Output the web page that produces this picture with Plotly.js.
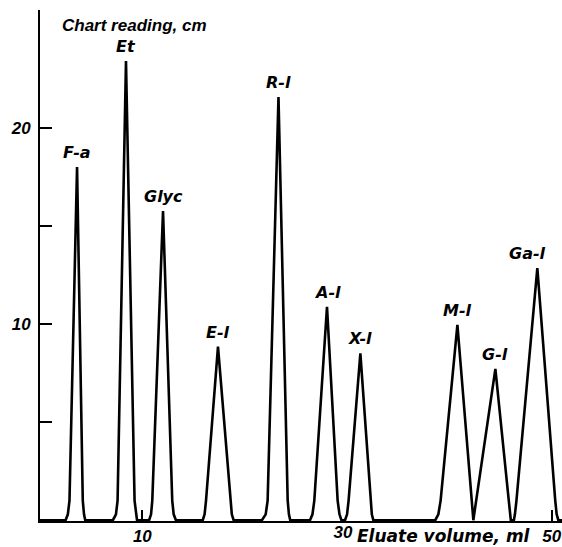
<!DOCTYPE html>
<html>
<head>
<meta charset="utf-8">
<script src="https://cdn.plot.ly/plotly-3.0.1.min.js"></script>
<style>html,body{margin:0;padding:0;background:#fff;}#chart{width:562px;height:547px;}</style>
</head>
<body>
<div id="chart"></div>
<script>
// Chromatogram trace (eluate volume in ml, chart reading in cm)
const elutionVolume = [
  0,
  2.50, 2.72, 2.88, 3.62, 4.18, 4.30, 4.42,
  7.12, 7.42, 7.58, 8.40, 9.24, 9.36, 9.48,
  10.66, 10.85, 10.97, 12.02, 12.92, 13.06, 13.28,
  15.90, 16.08, 16.22, 17.39, 18.58, 18.74, 18.92,
  21.68, 22.05, 22.24, 23.30, 24.20, 24.32, 24.45,
  26.38, 26.62, 26.80, 28.04, 29.08, 29.26, 29.45,
  29.80, 30.00, 30.15, 31.30, 32.28, 32.42, 32.57,
  38.62, 38.92, 39.14, 40.78, 42.19, 42.28, 42.34,
  42.42, 42.62, 44.49, 45.80, 45.90, 46.00,
  46.30, 46.40, 46.55, 48.59, 50.34, 50.48, 50.64,
  51.0
];
const chartReading = [
  0,
  0, 0.3, 1, 18.0, 1, 0.3, 0,
  0, 0.3, 1, 23.4, 1, 0.3, 0,
  0, 0.3, 1, 15.76, 1, 0.3, 0,
  0, 0.3, 1, 8.85, 1, 0.3, 0,
  0, 0.3, 1, 21.56, 1, 0.3, 0,
  0, 0.3, 1, 10.88, 1, 0.3, 0,
  0, 0.3, 1, 8.50, 1, 0.3, 0,
  0, 0.3, 1, 9.96, 1, 0.3, 0,
  0.3, 1, 7.71, 1, 0.3, 0,
  0, 0.3, 1, 12.85, 1, 0.3, 0,
  0
];

// Peak labels and apex positions
const peakNames = ['F-a', 'Et', 'Glyc', 'E-l', 'R-l', 'A-l', 'X-l', 'M-l', 'G-l', 'Ga-l'];
const peakX = [3.62, 8.40, 12.02, 17.39, 23.30, 28.04, 31.30, 40.78, 44.49, 48.59];
const peakY = [18.0, 23.4, 15.76, 8.85, 21.56, 10.88, 8.50, 9.96, 7.71, 12.85];

// Axis ticks
const yTickVals = [5, 10, 15, 20];
const yTickText = ['', '10', '', '20'];
const xTickVals = [10, 50];
const xTickText = ['10', '50'];
const xExtraTickVals = [30];
const xExtraTickText = ['30'];

const yTitle = 'Chart reading, cm';
const xTitle = 'Eluate volume, ml';

const FONT = {family: '"Liberation Sans", Arial, sans-serif', size: 17, color: '#000', weight: 'bold', style: 'italic'};
const WIDE_FONT = {family: '"DejaVu Sans", sans-serif', size: 16, color: '#000', weight: 'bold', style: 'italic'};
const XTITLE_FONT = Object.assign({}, WIDE_FONT, {size: 17});
const xRange = [0, 51.0];
const yRange = [-0.04, 26];

const labelShift = {'Ga-l': -10};

const annotations = peakNames.map((n, i) => ({
  x: peakX[i], y: peakY[i], xref: 'x', yref: 'y',
  text: n, showarrow: false, xanchor: 'center', yanchor: 'bottom',
  yshift: 3, xshift: labelShift[n] || 0, font: WIDE_FONT
}));
annotations.push({
  xref: 'paper', yref: 'paper', x: 0.038, y: 0.969, xanchor: 'left', yanchor: 'middle',
  text: yTitle, showarrow: false, font: FONT
});
annotations.push({
  xref: 'paper', yref: 'paper', x: 0.604, y: -0.0303, xanchor: 'left', yanchor: 'middle',
  text: xTitle, showarrow: false, font: XTITLE_FONT
});

const data = [{
  type: 'scatter', mode: 'lines', x: elutionVolume, y: chartReading,
  line: {color: '#000', width: 2.6}, hoverinfo: 'skip', showlegend: false
}, {
  type: 'scatter', mode: 'none', x: xExtraTickVals, y: [0], xaxis: 'x2', yaxis: 'y',
  hoverinfo: 'skip', showlegend: false
}];

const layout = {
  width: 562, height: 547,
  margin: {l: 40, r: 0, t: 10, b: 26, pad: 0},
  paper_bgcolor: '#fff', plot_bgcolor: '#fff',
  showlegend: false,
  font: FONT,
  xaxis: {
    range: xRange, showgrid: false, zeroline: false,
    showline: true, linecolor: '#000', linewidth: 2,
    tickmode: 'array', tickvals: xTickVals, ticktext: xTickText,
    ticks: 'inside', ticklen: 11, tickwidth: 2, tickcolor: '#000',
    tickfont: FONT, ticklabelstandoff: -1
  },
  xaxis2: {
    range: xRange, overlaying: 'x', anchor: 'y', side: 'bottom',
    showgrid: false, zeroline: false, showline: false,
    tickmode: 'array', tickvals: xExtraTickVals, ticktext: xExtraTickText,
    ticks: '', tickfont: FONT, ticklabelstandoff: -1, ticklabelshift: -4
  },
  yaxis: {
    range: yRange, showgrid: false, zeroline: false,
    showline: true, linecolor: '#000', linewidth: 2,
    tickmode: 'array', tickvals: yTickVals, ticktext: yTickText,
    ticks: 'inside', ticklen: 12, tickwidth: 2, tickcolor: '#000',
    tickfont: FONT, ticklabelstandoff: 4
  },
  annotations: annotations
};

Plotly.newPlot('chart', data, layout, {staticPlot: true, displayModeBar: false});
</script>
</body>
</html>
